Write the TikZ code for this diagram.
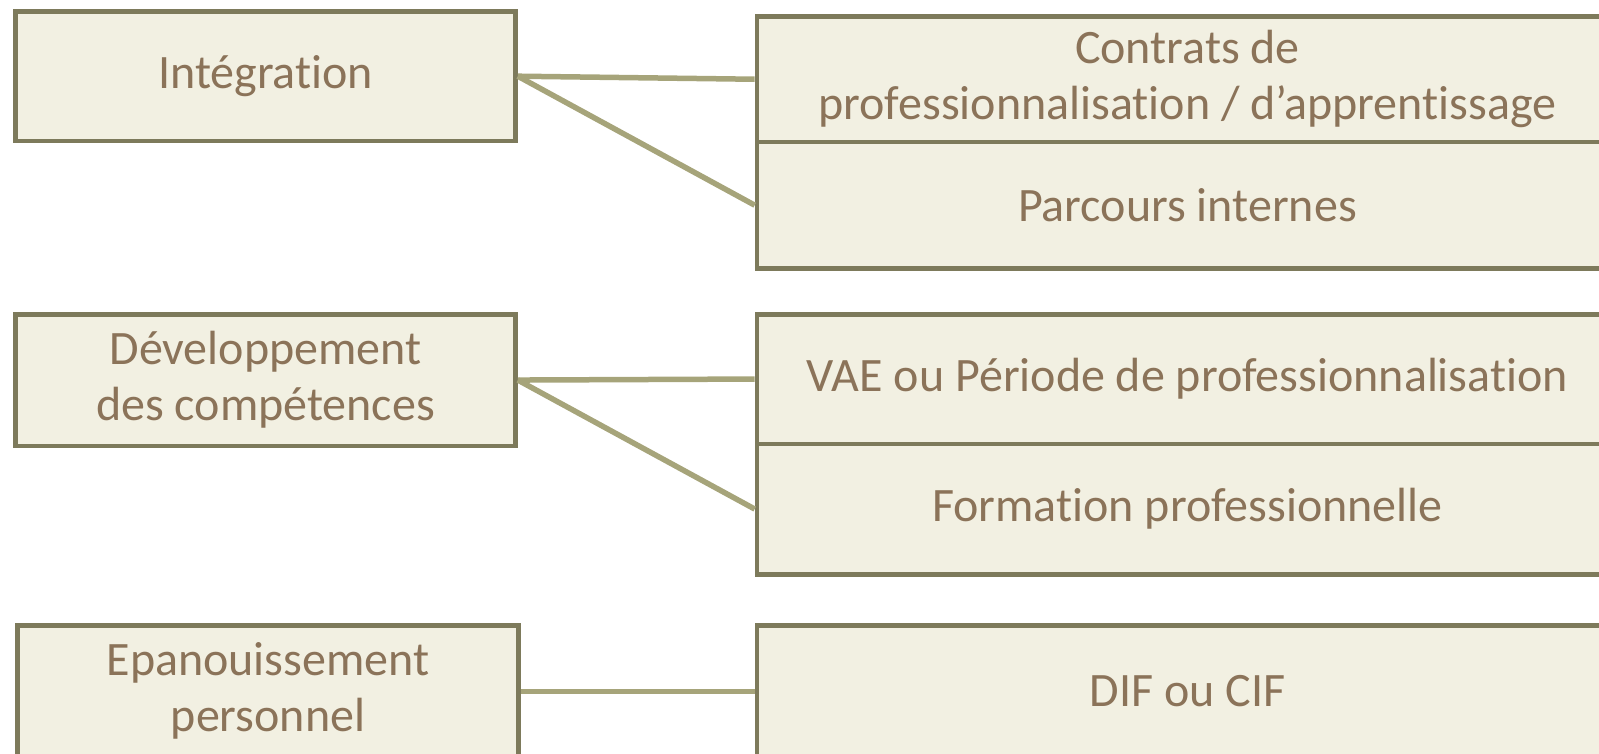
\documentclass[tikz,border=0pt]{standalone}
\usepackage{fontspec}
\setmainfont{Carlito}[Ligatures={NoCommon,NoContextual}]
\definecolor{boxborder}{HTML}{7D7A5B}
\definecolor{boxfill}{HTML}{F2F0E2}
\definecolor{linkcol}{HTML}{A6A47A}
\definecolor{textcol}{HTML}{8B7359}
\tikzset{
  box/.style={draw=boxborder, fill=boxfill, line width=4.5pt, rectangle, inner sep=0pt,
    anchor=north west, text=textcol, align=center, font=\fontsize{48}{56}\selectfont},
  leftbox/.style={box, minimum width=500pt},
  rightbox/.style={box, minimum width=861pt},
  link/.style={draw=linkcol, line width=5.5pt}
}
\begin{document}
\begin{tikzpicture}[x=1pt,y=-1pt]
\useasboundingbox (0,0) rectangle (1599,754);
\clip (0,0) rectangle (1599,754);
% left column
\node[leftbox, minimum height=129.5pt] (integ) at (13.3,9.2) {Intégration};
\node[leftbox, minimum height=131.6pt] (dev) at (13.3,312) {Développement\\des compétences};
\node[leftbox, minimum width=501pt, minimum height=132pt] (epa) at (15.3,623) {Epanouissement\\personnel};
% right column
\node[rightbox, minimum height=125.4pt] (contrats) at (754.7,14.3) {Contrats de\\professionnalisation / d’apprentissage};
\node[rightbox, minimum height=126.5pt] (parcours) at (754.7,139.7) {Parcours internes};
\node[rightbox, minimum height=129.6pt] (vae) at (754.7,312) {VAE ou Période de professionnalisation};
\node[rightbox, minimum height=130.4pt] (formation) at (754.7,441.6) {Formation professionnelle};
\node[rightbox, minimum height=132pt] (dif) at (754.7,623) {DIF ou CIF};
% connectors
\draw[link] (integ.east) -- (contrats.west);
\draw[link] (integ.east) -- (parcours.west);
\draw[link] (dev.east) -- (vae.west);
\draw[link] (dev.east) -- (formation.west);
\draw[link] (epa.east) -- (dif.west);
\end{tikzpicture}
\end{document}
